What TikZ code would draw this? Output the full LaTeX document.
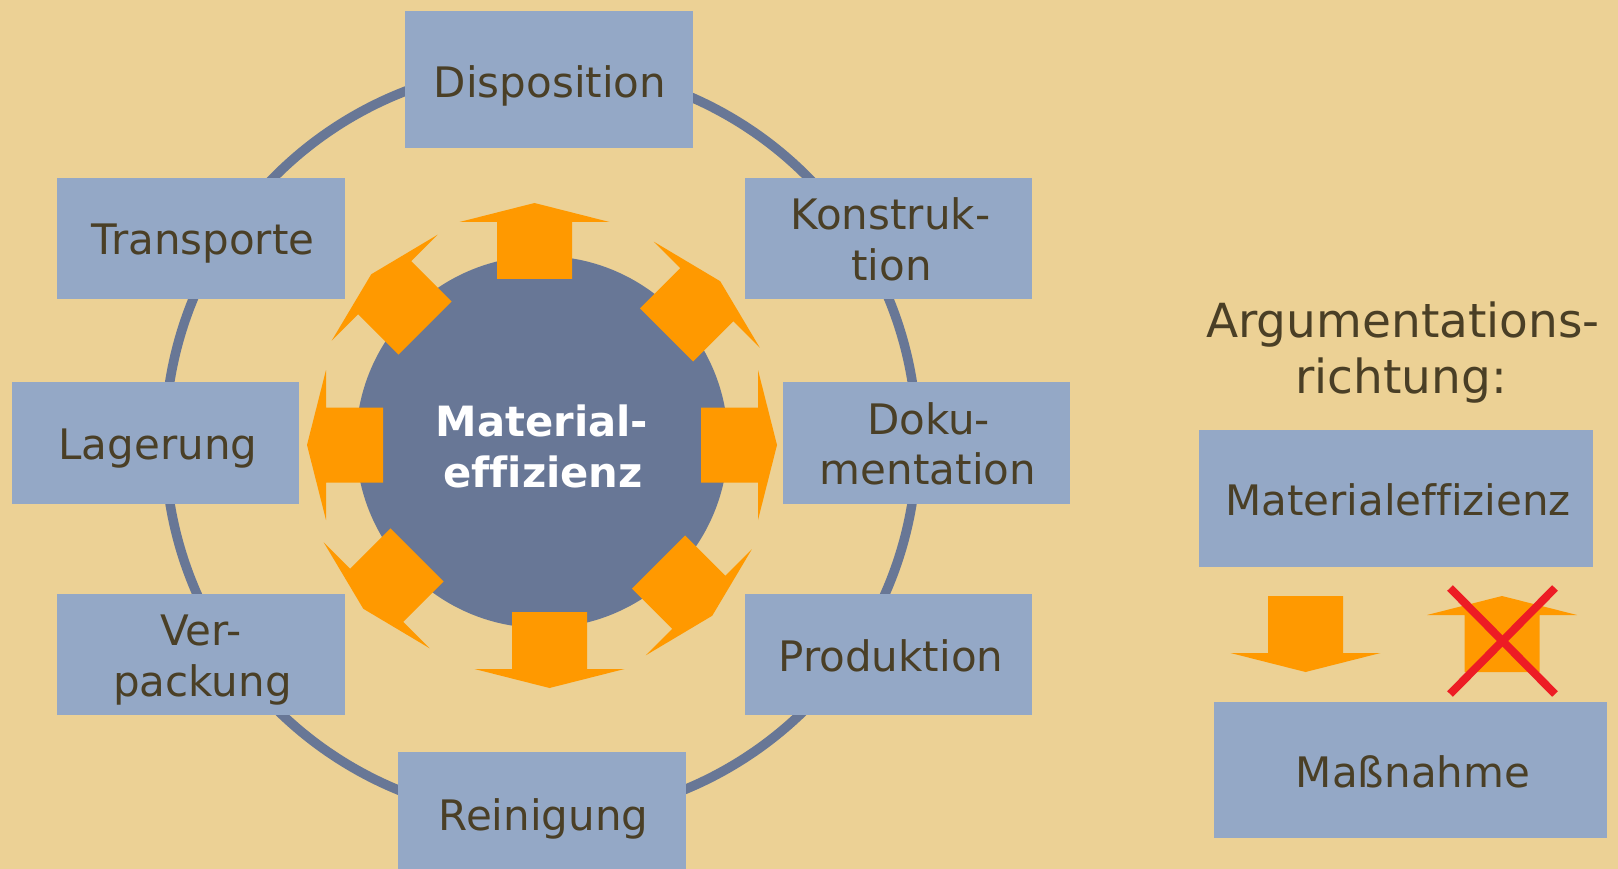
\documentclass[tikz,border=0pt]{standalone}
\usepackage{fontspec}
\setmainfont{DejaVu Sans}[Ligatures=CommonOff]
\definecolor{bgc}{RGB}{236,209,149}
\definecolor{boxc}{RGB}{148,168,198}
\definecolor{ringc}{RGB}{104,119,150}
\definecolor{orc}{RGB}{255,153,0}
\definecolor{txtc}{RGB}{74,63,38}
\definecolor{crossc}{RGB}{237,28,36}
\newcommand\orarrow[3]{\fill[orc, shift={(#1,#2)}, rotate=#3] (0,-37.5) -- (57,-37.5) -- (57,-75) -- (76,0) -- (57,75) -- (57,37.5) -- (0,37.5) -- cycle;}
\tikzset{
  topic/.style={rectangle, fill=boxc, inner sep=0pt},
  lbl/.style={text=txtc, inner sep=0pt, anchor=base, font=\fontsize{42}{51}\selectfont},
  centerlbl/.style={text=white, inner sep=0pt, anchor=base, font=\fontsize{41.7}{51}\bfseries\selectfont},
  legendtext/.style={text=txtc, inner sep=0pt, anchor=base, font=\fontsize{47}{56}\selectfont},
}
\begin{document}
\begin{tikzpicture}[x=1pt,y=-1pt]
\useasboundingbox (0,0) rectangle (1618,869);
\fill[bgc] (0,0) rectangle (1618,869);
% outer ring
\draw[ringc, line width=9.5pt] (541,442) circle[radius=376];
% boxes
\node[topic, minimum width=288, minimum height=137] (disp) at (549,79.5) {};
\node[topic, minimum width=288, minimum height=121] (trans) at (201,238.5) {};
\node[topic, minimum width=287, minimum height=121] (konst) at (888.5,238.5) {};
\node[topic, minimum width=287, minimum height=122] (lager) at (155.5,443) {};
\node[topic, minimum width=287, minimum height=122] (doku) at (926.5,443) {};
\node[topic, minimum width=288, minimum height=121] (verp) at (201,654.5) {};
\node[topic, minimum width=287, minimum height=121] (prod) at (888.5,654.5) {};
\node[topic, minimum width=288, minimum height=124] (rein) at (542,814) {};
% labels
\node[lbl] (tdisp) at (550,98) {Disposition};
\node[lbl] (ttrans) at (203,255) {Transporte};
\node[lbl] (tkonst1) at (890.5,230) {Konstruk-};
\node[lbl] (tkonst2) at (891.5,281) {tion};
\node[lbl] (tlager) at (158,459) {Lagerung};
\node[lbl] (tdoku1) at (928.5,434) {Doku-};
\node[lbl] (tdoku2) at (928,484) {mentation};
\node[lbl] (tverp1) at (201,645) {Ver-};
\node[lbl] (tverp2) at (202.5,696) {packung};
\node[lbl] (tprod) at (891,671) {Produktion};
\node[lbl] (trein) at (543.5,830) {Reinigung};
% inner circle
\fill[ringc] (542,442) circle[radius=186];
\node[centerlbl] (mat1) at (542,436) {Material-};
\node[centerlbl] (mat2) at (543,487) {effizienz};
% arrows
\orarrow{534.5}{279}{90}
\orarrow{549.5}{612}{270}
\orarrow{383}{445}{180}
\orarrow{701}{445}{0}
\orarrow{425}{328}{135}
\orarrow{666.5}{335}{45}
\orarrow{417}{555}{225}
\orarrow{658.5}{562}{315}
% legend
\node[legendtext] (arg1) at (1403,337) {Argumentations-};
\node[legendtext] (arg2) at (1401,393) {richtung:};
\node[topic, minimum width=394, minimum height=137] (meff) at (1396,498.5) {};
\node[lbl] (tmeff) at (1398,515) {Materialeffizienz};
\node[topic, minimum width=393, minimum height=136] (mass) at (1410.5,770) {};
\node[lbl] (tmass) at (1413,787) {Maßnahme};
\orarrow{1305.5}{596}{270}
\orarrow{1502}{672}{90}
\draw[crossc, line width=8pt] (1450,588) -- (1555,694);
\draw[crossc, line width=8pt] (1555,588) -- (1450,694);
\end{tikzpicture}
\end{document}
